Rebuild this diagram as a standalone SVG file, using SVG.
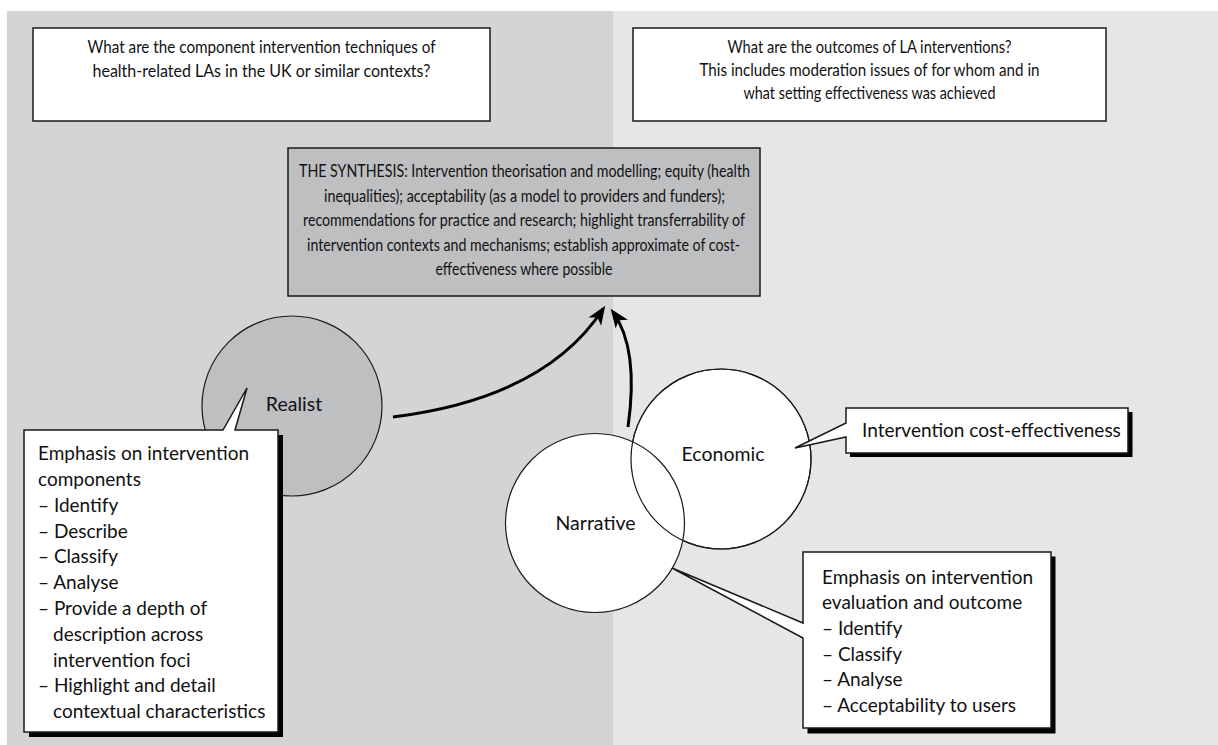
<svg xmlns="http://www.w3.org/2000/svg" width="1218" height="745" viewBox="0 0 1218 745">
<style>
  text { font-family: Lato, "Open Sans", "Liberation Sans", sans-serif; fill: #111; }
  .q { font-size: 18px; text-anchor: middle; }
  .s { font-size: 17.5px; text-anchor: middle; }
  .c { font-size: 19px; }
  .lbl { font-size: 19.5px; text-anchor: middle; }
  .box { fill: #ffffff; stroke: #1a1a1a; stroke-width: 1.5; }
  .syn { fill: #bebfc1; stroke: #1a1a1a; stroke-width: 1.5; }
  .shadow { fill: #000000; }
  .circ { stroke: #1a1a1a; stroke-width: 1.2; }
  .arrow { fill: none; stroke: #000; stroke-width: 3; marker-end: url(#ah); }
</style>
<defs>
  <marker id="ah" markerUnits="userSpaceOnUse" markerWidth="26" markerHeight="20" viewBox="-20 -10 26 20" refX="0" refY="0" orient="auto">
    <path d="M4,0 L-15,-7.5 L-10,0 L-15,7.5 Z" fill="#000"/>
  </marker>
</defs>

<g id="background">
  <rect x="0" y="0" width="1218" height="745" fill="#ffffff"/>
  <rect x="7" y="11" width="606" height="734" fill="#d3d4d6"/>
  <rect x="613" y="11" width="605" height="734" fill="#e5e6e8"/>
</g>

<g id="node-q-left">
  <rect class="box" x="33" y="28" width="457" height="93"/>
  <text class="q" x="261.5" y="53" textLength="348" lengthAdjust="spacingAndGlyphs">What are the component intervention techniques of</text>
  <text class="q" x="261.5" y="76.5" textLength="338" lengthAdjust="spacingAndGlyphs">health-related LAs in the UK or similar contexts?</text>
</g>

<g id="node-q-right">
  <rect class="box" x="633" y="28" width="473" height="93"/>
  <text class="q" x="869.5" y="53" textLength="284" lengthAdjust="spacingAndGlyphs">What are the outcomes of LA interventions?</text>
  <text class="q" x="869.5" y="76" textLength="340" lengthAdjust="spacingAndGlyphs">This includes moderation issues of for whom and in</text>
  <text class="q" x="869.5" y="99" textLength="252" lengthAdjust="spacingAndGlyphs">what setting effectiveness was achieved</text>
</g>

<g id="node-synthesis">
  <rect class="syn" x="288" y="148" width="472" height="148"/>
  <text class="s" x="524.5" y="177" textLength="451" lengthAdjust="spacingAndGlyphs">THE SYNTHESIS: Intervention theorisation and modelling; equity (health</text>
  <text class="s" x="524.5" y="201.5" textLength="401" lengthAdjust="spacingAndGlyphs">inequalities); acceptability (as a model to providers and funders);</text>
  <text class="s" x="524" y="226" textLength="442" lengthAdjust="spacingAndGlyphs">recommendations for practice and research; highlight transferrability of</text>
  <text class="s" x="523.5" y="250.5" textLength="433" lengthAdjust="spacingAndGlyphs">intervention contexts and mechanisms; establish approximate of cost-</text>
  <text class="s" x="524" y="275" textLength="177" lengthAdjust="spacingAndGlyphs">effectiveness where possible</text>
</g>

<g id="node-realist">
  <circle class="circ" cx="292" cy="406" r="90" fill="#bebfc1"/>
  <text class="lbl" x="294" y="411">Realist</text>
</g>

<g id="node-economic">
  <circle class="circ" cx="721" cy="459" r="90" fill="#ffffff"/>
  <text class="lbl" x="723" y="461">Economic</text>
</g>

<g id="node-narrative">
  <circle class="circ" cx="595" cy="523" r="89.5" fill="#ffffff"/>
  <circle class="circ" cx="721" cy="459" r="90" fill="none"/>
  <text class="lbl" x="595.5" y="530">Narrative</text>
</g>

<g id="node-realist-note">
  <rect class="shadow" x="29" y="435" width="254" height="302"/>
  <path class="box" d="M24,430 H223 L247,388 L235,430 H278 V732 H24 Z"/>
  <text class="c" x="38" y="460">Emphasis on intervention</text>
  <text class="c" x="38" y="486">components</text>
  <text class="c" x="38" y="511.5">– Identify</text>
  <text class="c" x="38" y="537.5">– Describe</text>
  <text class="c" x="38" y="563">– Classify</text>
  <text class="c" x="38" y="589">– Analyse</text>
  <text class="c" x="38" y="615">– Provide a depth of</text>
  <text class="c" x="53" y="640.5">description across</text>
  <text class="c" x="53" y="666.5">intervention foci</text>
  <text class="c" x="38" y="692">– Highlight and detail</text>
  <text class="c" x="53" y="718">contextual characteristics</text>
</g>

<g id="node-economic-note">
  <rect class="shadow" x="850" y="412" width="282.5" height="45"/>
  <path class="box" d="M846,408 H1128 V453 H846 V437 L795,448 L846,423 Z"/>
  <text class="c" x="862" y="436.5">Intervention cost-effectiveness</text>
</g>

<g id="node-narrative-note">
  <rect class="shadow" x="807.5" y="556.5" width="248" height="177"/>
  <path class="box" d="M803,552 H1051 V728 H803 V638 L672,568 L803,623 Z"/>
  <text class="c" x="822" y="583.5">Emphasis on intervention</text>
  <text class="c" x="822" y="609">evaluation and outcome</text>
  <text class="c" x="822" y="635">– Identify</text>
  <text class="c" x="822" y="660.5">– Classify</text>
  <text class="c" x="822" y="686">– Analyse</text>
  <text class="c" x="822" y="712">– Acceptability to users</text>
</g>

<g id="connectors">
  <path class="arrow" d="M393,417 Q545,398 603,309"/>
  <path class="arrow" d="M628,427 C634,385 633,340 613,312"/>
</g>
</svg>
